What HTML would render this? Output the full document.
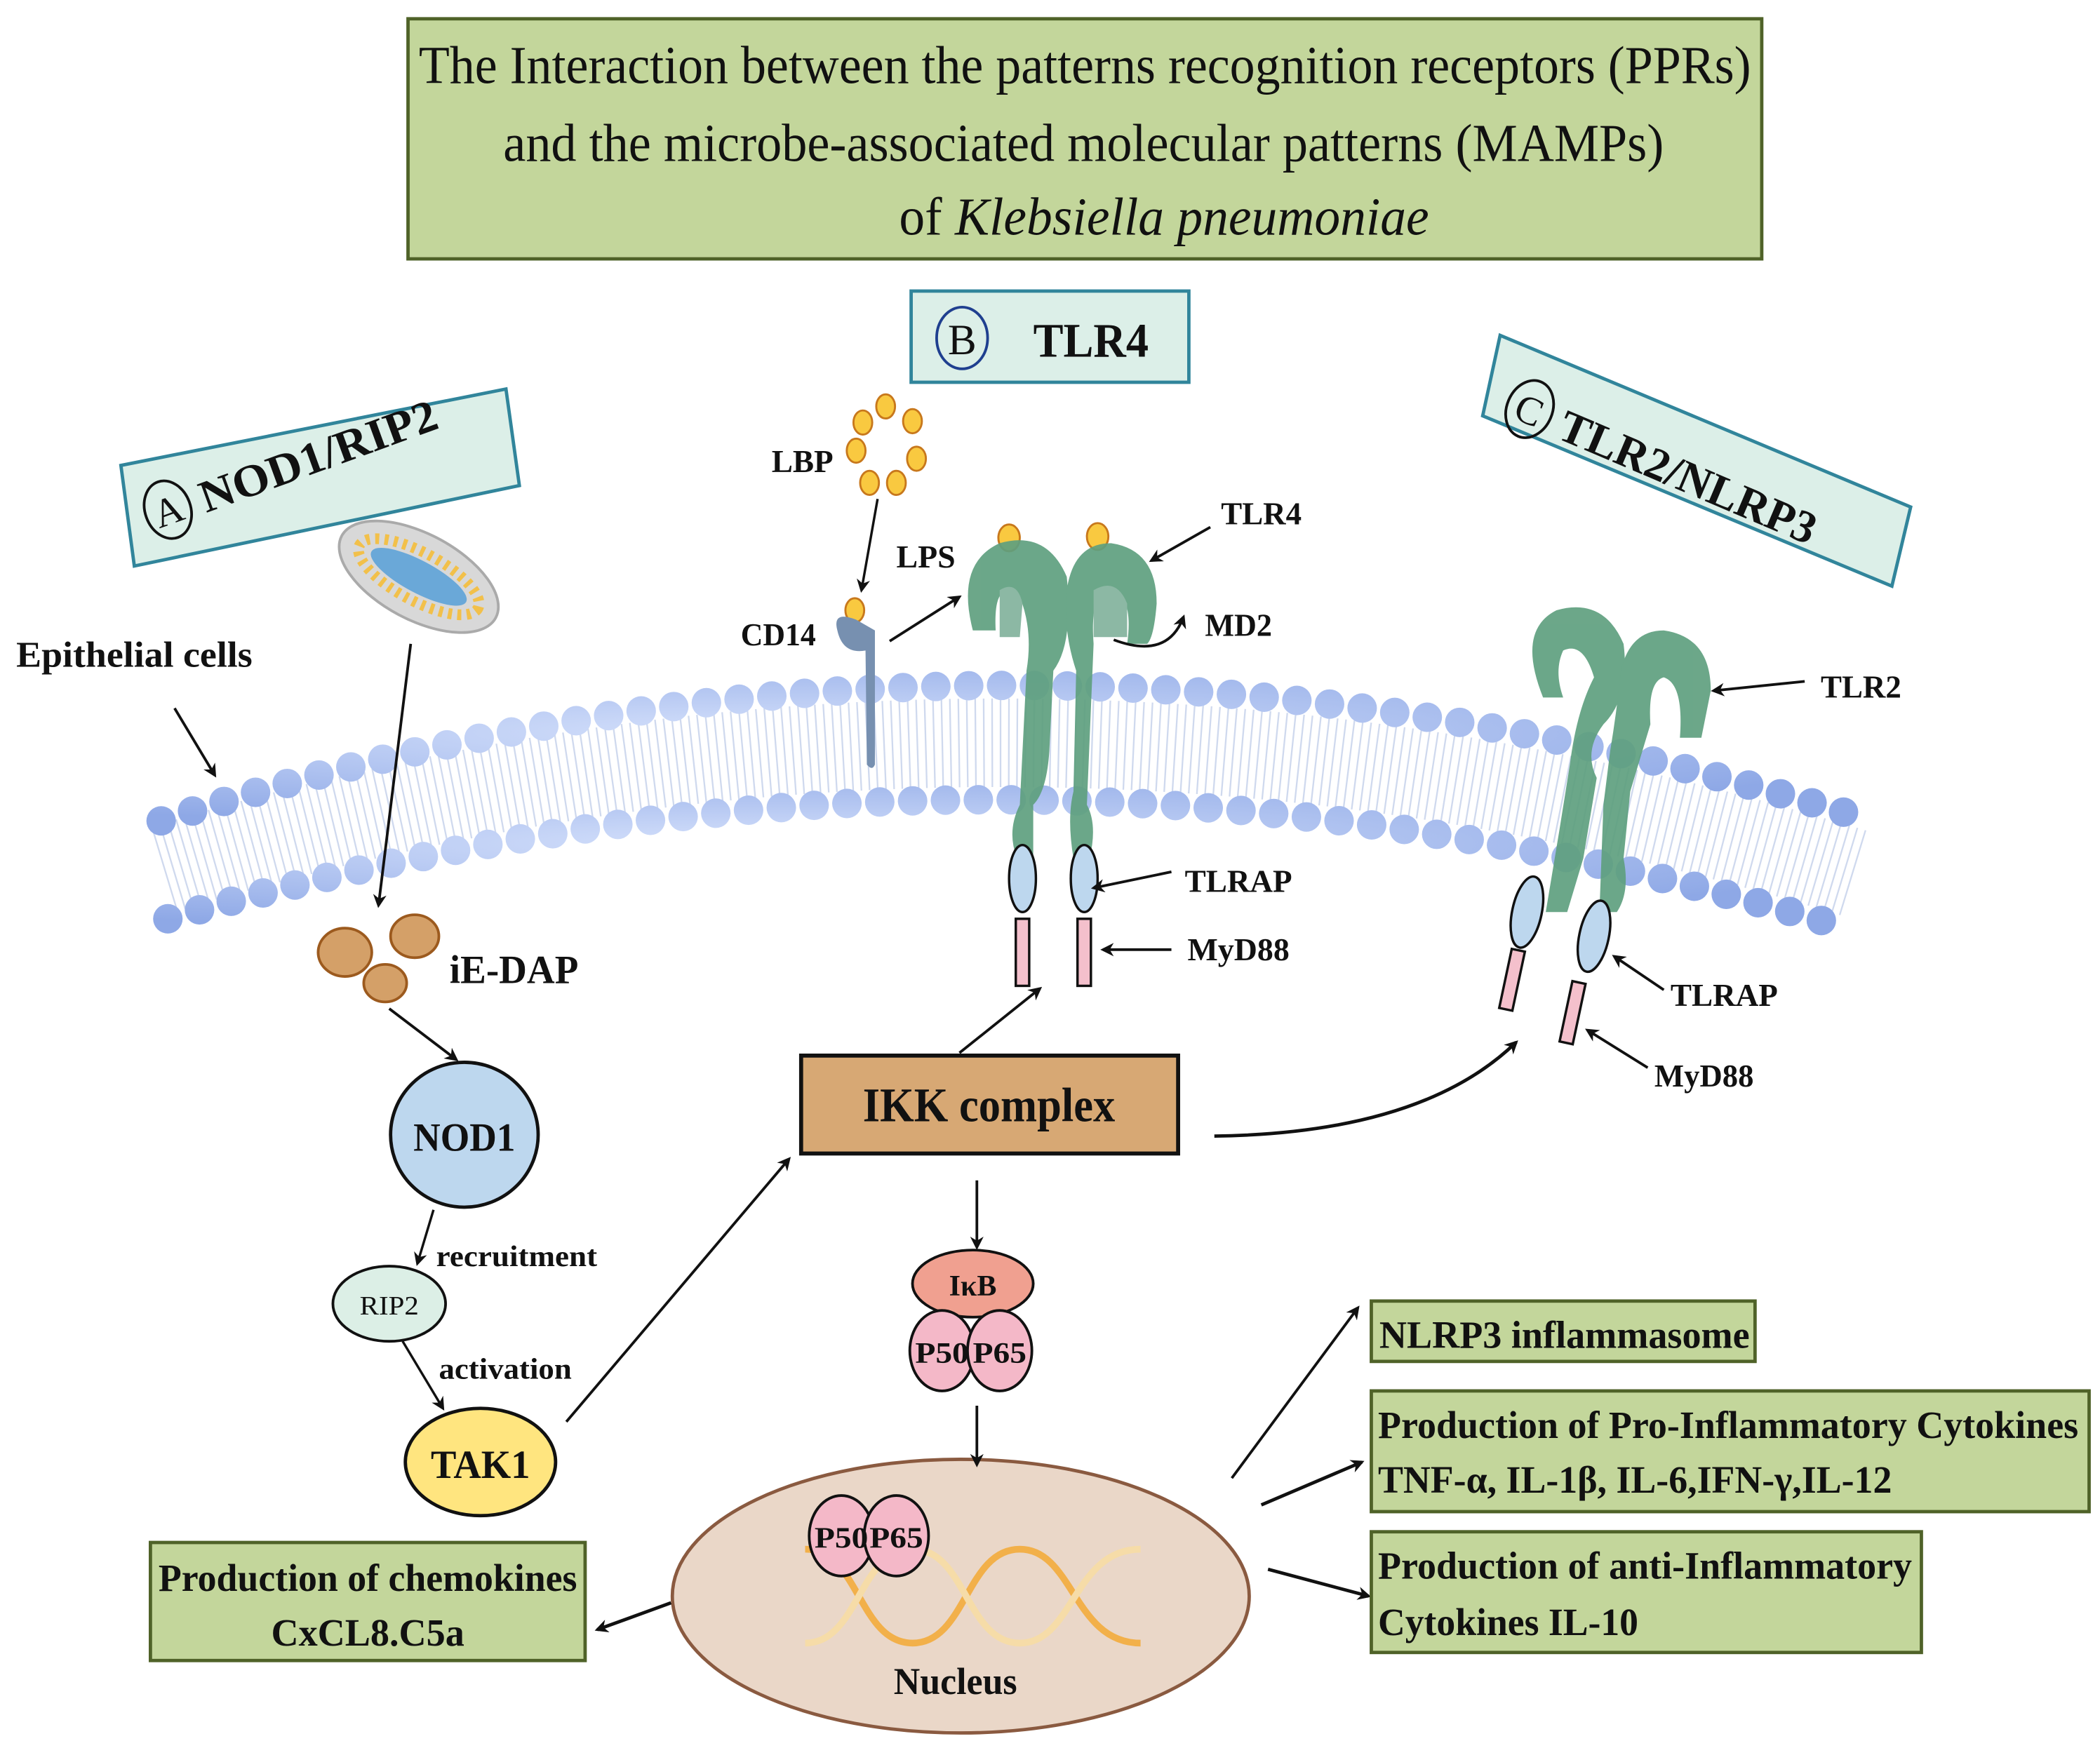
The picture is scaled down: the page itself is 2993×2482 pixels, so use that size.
<!DOCTYPE html>
<html><head><meta charset="utf-8"><style>
html,body{margin:0;padding:0;background:#fff;}
svg{display:block;}
text{font-family:"Liberation Serif",serif;fill:#111;}
.b{font-weight:bold;}
</style></head><body>
<svg width="2993" height="2482" viewBox="0 0 1565 1298" xmlns="http://www.w3.org/2000/svg">
<defs>
<marker id="ah" markerWidth="10" markerHeight="10" refX="8" refY="5" orient="auto" markerUnits="userSpaceOnUse">
<path d="M0,0 L10,5 L0,10 L3,5 z" fill="#111"/></marker>
<radialGradient id="hg" cx="0.35" cy="0.35" r="0.7"><stop offset="0" stop-color="#d4e0fb"/><stop offset="1" stop-color="#8ea8e6"/></radialGradient>
</defs>

<!-- Title -->
<rect x="304" y="14" width="1009" height="179" fill="#c3d69b" stroke="#4f6228" stroke-width="2.5"/>
<text x="312" y="62" font-size="40" textLength="993" lengthAdjust="spacingAndGlyphs">The Interaction between the patterns recognition receptors (PPRs)</text>
<text x="375" y="120" font-size="40" textLength="865" lengthAdjust="spacingAndGlyphs">and the microbe-associated molecular patterns (MAMPs)</text>
<text x="670" y="175" font-size="40" textLength="395" lengthAdjust="spacingAndGlyphs">of <tspan font-style="italic">Klebsiella pneumoniae</tspan></text>

<!-- B TLR4 label -->
<rect x="679" y="217" width="207" height="68" fill="#dcefe8" stroke="#31859b" stroke-width="2.5"/>
<ellipse cx="717" cy="252" rx="19" ry="23" fill="none" stroke="#1f3f8f" stroke-width="2"/>
<text x="717" y="264" font-size="32" text-anchor="middle">B</text>
<text x="770" y="266" font-size="36" class="b" textLength="86" lengthAdjust="spacingAndGlyphs">TLR4</text>

<!-- A NOD1/RIP2 label -->
<polygon points="90,347 377,290 387,362 100,422" fill="#dcefe8" stroke="#31859b" stroke-width="2.5"/>
<g transform="translate(125,380) rotate(-20)">
<ellipse cx="0" cy="0" rx="17" ry="22" fill="none" stroke="#111" stroke-width="2"/>
<text x="0" y="11" font-size="30" text-anchor="middle">A</text>
<text x="26" y="12" font-size="34" class="b" textLength="186" lengthAdjust="spacingAndGlyphs">NOD1/RIP2</text>
</g>

<!-- C TLR2/NLRP3 label -->
<polygon points="1118,250 1424,378 1410,437 1105,310" fill="#dcefe8" stroke="#31859b" stroke-width="2.5"/>
<g transform="translate(1140,305) rotate(23)">
<ellipse cx="0" cy="0" rx="17" ry="22" fill="none" stroke="#111" stroke-width="2"/>
<text x="0" y="11" font-size="30" text-anchor="middle">C</text>
<text x="26" y="12" font-size="34" class="b" textLength="205" lengthAdjust="spacingAndGlyphs">TLR2/NLRP3</text>
</g>

<!-- Membrane -->
<path d="M122,648 Q750,458 1382,651" fill="none" stroke="#cfd9ee" stroke-width="66" stroke-dasharray="1.2 5"/>
<path d="M120,612 Q750,410 1395,612" fill="none" stroke="url(#hg)" stroke-width="22" stroke-linecap="round" stroke-dasharray="0 24.5"/>
<path d="M125,685 Q750,505 1370,690" fill="none" stroke="url(#hg)" stroke-width="22" stroke-linecap="round" stroke-dasharray="0 24.5"/>

<text x="12" y="497" font-size="27" class="b" textLength="176" lengthAdjust="spacingAndGlyphs">Epithelial cells</text>
<line x1="130" y1="528" x2="160" y2="578" stroke="#111" stroke-width="2" marker-end="url(#ah)"/>

<!-- bacterium -->
<g transform="translate(312,430) rotate(28)">
<ellipse rx="65" ry="32" fill="#d8d8d8" stroke="#aaa" stroke-width="2"/>
<ellipse rx="50" ry="18" fill="none" stroke="#f2c04a" stroke-width="8" stroke-dasharray="3 4"/>
<ellipse rx="40" ry="12" fill="#6aa8d8"/>
</g>
<line x1="306" y1="480" x2="282" y2="675" stroke="#111" stroke-width="2" marker-end="url(#ah)"/>

<!-- iE-DAP -->
<ellipse cx="257" cy="710" rx="20" ry="18" fill="#d4a068" stroke="#9c5a1e" stroke-width="2"/>
<ellipse cx="309" cy="698" rx="18" ry="16" fill="#d4a068" stroke="#9c5a1e" stroke-width="2"/>
<ellipse cx="287" cy="733" rx="16" ry="14" fill="#d4a068" stroke="#9c5a1e" stroke-width="2"/>
<text x="335" y="733" font-size="30" class="b" textLength="96" lengthAdjust="spacingAndGlyphs">iE-DAP</text>

<!-- NOD1 chain shapes -->
<ellipse cx="346" cy="846" rx="55" ry="54" fill="#bdd7ee" stroke="#111" stroke-width="2.5"/>
<text x="346" y="858" font-size="30" class="b" text-anchor="middle" textLength="76" lengthAdjust="spacingAndGlyphs">NOD1</text>
<ellipse cx="290" cy="972" rx="42" ry="28" fill="#dcefe6" stroke="#111" stroke-width="2"/>
<text x="290" y="980" font-size="20" text-anchor="middle" textLength="44" lengthAdjust="spacingAndGlyphs">RIP2</text>
<ellipse cx="358" cy="1090" rx="56" ry="40" fill="#ffe57f" stroke="#111" stroke-width="2.5"/>
<text x="358" y="1102" font-size="30" class="b" text-anchor="middle" textLength="74" lengthAdjust="spacingAndGlyphs">TAK1</text>
<!-- NOD1 chain arrows -->
<line x1="290" y1="752" x2="340" y2="790" stroke="#111" stroke-width="2" marker-end="url(#ah)"/>
<line x1="323" y1="902" x2="311" y2="942" stroke="#111" stroke-width="1.8" marker-end="url(#ah)"/>
<text x="325" y="944" font-size="22" class="b" textLength="120" lengthAdjust="spacingAndGlyphs">recruitment</text>
<line x1="300" y1="1000" x2="330" y2="1050" stroke="#111" stroke-width="1.8" marker-end="url(#ah)"/>
<text x="327" y="1028" font-size="22" class="b" textLength="99" lengthAdjust="spacingAndGlyphs">activation</text>
<line x1="422" y1="1060" x2="588" y2="864" stroke="#111" stroke-width="2" marker-end="url(#ah)"/>

<!-- IKK -->
<rect x="597" y="787" width="281" height="73" fill="#d7a874" stroke="#111" stroke-width="3"/>
<text x="737" y="836" font-size="36" class="b" text-anchor="middle" textLength="188" lengthAdjust="spacingAndGlyphs">IKK complex</text>
<line x1="715" y1="785" x2="775" y2="737" stroke="#111" stroke-width="2" marker-end="url(#ah)"/>
<path d="M905,847 Q1060,845 1130,777" fill="none" stroke="#111" stroke-width="2.5" marker-end="url(#ah)"/>
<line x1="728" y1="880" x2="728" y2="930" stroke="#111" stroke-width="2" marker-end="url(#ah)"/>

<!-- IkB complex -->
<ellipse cx="725" cy="957" rx="45" ry="25" fill="#f0a090" stroke="#111" stroke-width="2"/>
<text x="725" y="966" font-size="22" class="b" text-anchor="middle">IκB</text>
<ellipse cx="702" cy="1007" rx="24" ry="30" fill="#f4b8c8" stroke="#111" stroke-width="2"/>
<ellipse cx="745" cy="1007" rx="24" ry="30" fill="#f4b8c8" stroke="#111" stroke-width="2"/>
<text x="702" y="1016" font-size="22" class="b" text-anchor="middle" textLength="40" lengthAdjust="spacingAndGlyphs">P50</text>
<text x="745" y="1016" font-size="22" class="b" text-anchor="middle" textLength="40" lengthAdjust="spacingAndGlyphs">P65</text>

<!-- Nucleus -->
<ellipse cx="716" cy="1190" rx="215" ry="102" fill="#ead7c8" stroke="#8a5a40" stroke-width="2.5"/>
<line x1="728" y1="1048" x2="728" y2="1092" stroke="#111" stroke-width="2" marker-end="url(#ah)"/>
<g fill="none" stroke-width="5">
<path d="M600,1155 C640,1155 640,1225 680,1225 C720,1225 720,1155 760,1155 C800,1155 800,1225 850,1225" stroke="#f2b04a"/>
<path d="M600,1225 C640,1225 640,1155 680,1155 C720,1155 720,1225 760,1225 C800,1225 800,1155 850,1155" stroke="#f6dca8"/>
</g>
<ellipse cx="627" cy="1145" rx="24" ry="30" fill="#f4b8c8" stroke="#111" stroke-width="2"/>
<ellipse cx="668" cy="1145" rx="24" ry="30" fill="#f4b8c8" stroke="#111" stroke-width="2"/>
<text x="627" y="1154" font-size="22" class="b" text-anchor="middle" textLength="40" lengthAdjust="spacingAndGlyphs">P50</text>
<text x="668" y="1154" font-size="22" class="b" text-anchor="middle" textLength="40" lengthAdjust="spacingAndGlyphs">P65</text>
<text x="712" y="1263" font-size="28" class="b" text-anchor="middle" textLength="92" lengthAdjust="spacingAndGlyphs">Nucleus</text>

<!-- Output boxes -->
<line x1="500" y1="1195" x2="445" y2="1215" stroke="#111" stroke-width="2.5" marker-end="url(#ah)"/>
<rect x="112" y="1150" width="324" height="88" fill="#c3d69b" stroke="#4f6228" stroke-width="2.5"/>
<text x="274" y="1186" font-size="29" class="b" text-anchor="middle" textLength="312" lengthAdjust="spacingAndGlyphs">Production of chemokines</text>
<text x="274" y="1227" font-size="29" class="b" text-anchor="middle" textLength="144" lengthAdjust="spacingAndGlyphs">CxCL8.C5a</text>

<line x1="918" y1="1102" x2="1012" y2="975" stroke="#111" stroke-width="2" marker-end="url(#ah)"/>
<line x1="940" y1="1122" x2="1015" y2="1090" stroke="#111" stroke-width="2.5" marker-end="url(#ah)"/>
<line x1="945" y1="1170" x2="1020" y2="1190" stroke="#111" stroke-width="2.5" marker-end="url(#ah)"/>

<rect x="1022" y="970" width="286" height="45" fill="#c3d69b" stroke="#4f6228" stroke-width="2.5"/>
<text x="1028" y="1005" font-size="29" class="b" textLength="276" lengthAdjust="spacingAndGlyphs">NLRP3 inflammasome</text>
<rect x="1022" y="1037" width="535" height="90" fill="#c3d69b" stroke="#4f6228" stroke-width="2.5"/>
<text x="1027" y="1072" font-size="29" class="b" textLength="522" lengthAdjust="spacingAndGlyphs">Production of Pro-Inflammatory Cytokines</text>
<text x="1027" y="1113" font-size="29" class="b" textLength="383" lengthAdjust="spacingAndGlyphs">TNF-α, IL-1β, IL-6,IFN-γ,IL-12</text>
<rect x="1022" y="1142" width="410" height="90" fill="#c3d69b" stroke="#4f6228" stroke-width="2.5"/>
<text x="1027" y="1177" font-size="29" class="b" textLength="398" lengthAdjust="spacingAndGlyphs">Production of anti-Inflammatory</text>
<text x="1027" y="1219" font-size="29" class="b" textLength="194" lengthAdjust="spacingAndGlyphs">Cytokines IL-10</text>

<!-- LBP / CD14 / LPS -->
<text x="575" y="352" font-size="24" class="b" textLength="46" lengthAdjust="spacingAndGlyphs">LBP</text>
<g fill="#f9c940" stroke="#c8781c" stroke-width="1.5">
<ellipse cx="660" cy="303" rx="7" ry="9"/><ellipse cx="680" cy="314" rx="7" ry="9"/>
<ellipse cx="683" cy="342" rx="7" ry="9"/><ellipse cx="668" cy="360" rx="7" ry="9"/>
<ellipse cx="648" cy="360" rx="7" ry="9"/><ellipse cx="638" cy="336" rx="7" ry="9"/>
<ellipse cx="643" cy="315" rx="7" ry="9"/>
<ellipse cx="637" cy="455" rx="7" ry="9"/>
<ellipse cx="752" cy="401" rx="8" ry="10"/><ellipse cx="818" cy="400" rx="8" ry="10"/>
</g>
<line x1="654" y1="372" x2="642" y2="440" stroke="#111" stroke-width="1.8" marker-end="url(#ah)"/>
<text x="668" y="423" font-size="24" class="b" textLength="44" lengthAdjust="spacingAndGlyphs">LPS</text>
<line x1="663" y1="478" x2="715" y2="445" stroke="#111" stroke-width="2" marker-end="url(#ah)"/>
<text x="552" y="481" font-size="24" class="b" textLength="56" lengthAdjust="spacingAndGlyphs">CD14</text>
<path d="M624,470 Q620,455 638,462 L652,470 L652,570 Q650,575 646,570 L645,485 Q628,488 624,470 z" fill="#7790b0"/>

<!-- TLR4 protein -->
<g fill="#5fa07f" opacity="0.92">
<path d="M725,470 Q712,420 745,405 Q780,395 795,430 Q800,480 785,500 L782,560 Q780,590 770,600 L770,640 L758,640 Q750,620 760,600 L765,500 Q770,470 760,445 Q740,430 742,470 z"/>
<path d="M795,440 Q800,405 828,405 Q862,410 862,450 Q860,475 855,480 L840,480 Q845,445 828,438 Q812,440 815,480 L810,600 Q818,615 812,640 L800,640 Q795,610 800,590 L802,500 Q792,470 795,440 z"/>
</g>
<path d="M745,440 Q758,432 762,450 L760,475 L745,475 z" fill="#8cb8a4"/>
<path d="M815,440 Q832,430 840,450 L840,475 L815,475 z" fill="#8cb8a4"/>
<ellipse cx="762" cy="655" rx="10" ry="25" fill="#bdd7ee" stroke="#111" stroke-width="1.8"/>
<ellipse cx="808" cy="655" rx="10" ry="25" fill="#bdd7ee" stroke="#111" stroke-width="1.8"/>
<rect x="757" y="685" width="10" height="50" fill="#f4c0cc" stroke="#111" stroke-width="1.8"/>
<rect x="803" y="685" width="10" height="50" fill="#f4c0cc" stroke="#111" stroke-width="1.8"/>
<text x="910" y="391" font-size="24" class="b" textLength="60" lengthAdjust="spacingAndGlyphs">TLR4</text>
<line x1="902" y1="393" x2="858" y2="418" stroke="#111" stroke-width="2" marker-end="url(#ah)"/>
<text x="898" y="474" font-size="24" class="b" textLength="50" lengthAdjust="spacingAndGlyphs">MD2</text>
<path d="M830,477 Q870,492 882,460" fill="none" stroke="#111" stroke-width="2" marker-end="url(#ah)"/>
<text x="883" y="665" font-size="24" class="b" textLength="80" lengthAdjust="spacingAndGlyphs">TLRAP</text>
<line x1="873" y1="650" x2="815" y2="662" stroke="#111" stroke-width="2" marker-end="url(#ah)"/>
<text x="885" y="716" font-size="24" class="b" textLength="76" lengthAdjust="spacingAndGlyphs">MyD88</text>
<line x1="873" y1="708" x2="822" y2="708" stroke="#111" stroke-width="2" marker-end="url(#ah)"/>

<!-- TLR2 protein -->
<g fill="#5fa07f" opacity="0.92">
<path d="M1150,520 Q1130,470 1160,455 Q1195,445 1210,480 Q1215,520 1195,540 Q1180,560 1190,580 L1180,640 L1168,680 L1152,680 L1162,620 L1170,570 Q1175,530 1188,505 Q1180,478 1165,485 Q1158,500 1165,520 z"/>
<path d="M1208,500 Q1215,470 1240,470 Q1275,475 1275,515 Q1270,540 1268,550 L1252,550 Q1255,510 1240,505 Q1228,508 1230,540 L1215,590 L1210,640 Q1215,665 1205,680 L1192,680 L1195,600 L1200,560 Q1205,530 1208,500 z"/>
</g>
<ellipse cx="1138" cy="680" rx="11" ry="27" transform="rotate(12 1138 680)" fill="#bdd7ee" stroke="#111" stroke-width="1.8"/>
<ellipse cx="1188" cy="698" rx="11" ry="27" transform="rotate(12 1188 698)" fill="#bdd7ee" stroke="#111" stroke-width="1.8"/>
<rect x="1122" y="708" width="10" height="45" transform="rotate(12 1127 730)" fill="#f4c0cc" stroke="#111" stroke-width="1.8"/>
<rect x="1167" y="732" width="10" height="46" transform="rotate(12 1172 755)" fill="#f4c0cc" stroke="#111" stroke-width="1.8"/>
<text x="1357" y="520" font-size="24" class="b" textLength="60" lengthAdjust="spacingAndGlyphs">TLR2</text>
<line x1="1345" y1="508" x2="1277" y2="515" stroke="#111" stroke-width="2" marker-end="url(#ah)"/>
<text x="1245" y="750" font-size="24" class="b" textLength="80" lengthAdjust="spacingAndGlyphs">TLRAP</text>
<line x1="1240" y1="738" x2="1203" y2="713" stroke="#111" stroke-width="2" marker-end="url(#ah)"/>
<text x="1233" y="810" font-size="24" class="b" textLength="74" lengthAdjust="spacingAndGlyphs">MyD88</text>
<line x1="1228" y1="796" x2="1183" y2="768" stroke="#111" stroke-width="2" marker-end="url(#ah)"/>
</svg>
</body></html>
